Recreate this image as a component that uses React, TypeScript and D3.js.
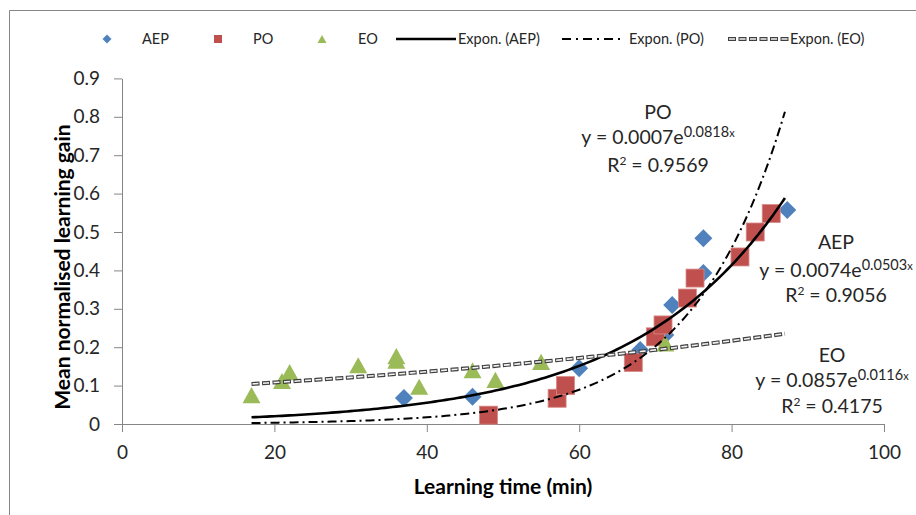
import React from 'react';
import { scaleLinear, select, axisBottom, axisLeft, line, range } from 'd3';

// series
const aepX = [37, 46, 57.5, 60, 68, 71.3, 72.2, 76.3, 76.3, 87.3];
const aepY = [0.068, 0.071, 0.08, 0.145, 0.193, 0.232, 0.31, 0.484, 0.393, 0.557];
const poX = [48.1, 57.1, 58.2, 67.1, 70, 71, 74.2, 75.2, 81.1, 83.1, 85.2];
const poY = [0.023, 0.067, 0.1, 0.16, 0.227, 0.258, 0.328, 0.38, 0.435, 0.5, 0.548];
const eoX = [17, 21, 22, 31, 36, 36, 39, 46, 49, 55, 71.3];
const eoY = [0.075, 0.112, 0.135, 0.153, 0.177, 0.165, 0.097, 0.14, 0.115, 0.162, 0.21];

// exponential fits y = a * e^(b x)
const seriesNames = ['AEP', 'PO', 'EO'];
const fitA = [0.0074, 0.00066, 0.0857];
const fitB = [0.0503, 0.0818, 0.0116];
const fitLabelA = ['0.0074', '0.0007', '0.0857'];
const fitLabelB = ['0.0503', '0.0818', '0.0116'];
const fitR2 = ['0.9056', '0.9569', '0.4175'];
const fitRange = [17, 87];

const xTicks = [0, 20, 40, 60, 80, 100];
const yTicks = [0, 0.1, 0.2, 0.3, 0.4, 0.5, 0.6, 0.7, 0.8, 0.9];
const legendLabels = ['AEP', 'PO', 'EO', 'Expon. (AEP)', 'Expon. (PO)', 'Expon. (EO)'];

const FONT = 'Lato, "Open Sans", sans-serif';
const BLUE = '#4f81bd';
const RED = '#c0504d';
const GREEN = '#9bbb59';
const AXIS = '#868686';

class App extends React.Component {
  render() {
    const width = 916
    const height = 515
    const x = scaleLinear().domain([0, 100]).range([122, 884])
    const y = scaleLinear().domain([0, 0.9]).range([424, 78.4])

    const zip = (xs, ys) => xs.map((v, i) => [v, ys[i]])

    return (
      <svg width={width} height={height} style={{ position: 'absolute', left: 0, top: 0, background: '#fff' }}>
        <rect x={0} y={0} width={width} height={height} fill="#fff" />
        <path d={`M9.5,${height} V10.5 H${width}`} fill="none" stroke={AXIS} strokeWidth={1} />

        <Axis axis="y" transform="translate(122,0)" scale={axisLeft(y).tickValues(yTicks).tickSize(8).tickSizeOuter(0).tickPadding(14).tickFormat(d => (d === 0 ? '0' : d.toFixed(1)))} />
        <Axis axis="x" transform="translate(0,424)" scale={axisBottom(x).tickValues(xTicks).tickSize(8).tickSizeOuter(0).tickPadding(14).tickFormat(d => String(d))} />

        <Markers data={zip(aepX, aepY)} scale={{ x, y }} kind="diamond" fill={BLUE} />
        <Markers data={zip(poX, poY)} scale={{ x, y }} kind="square" fill={RED} />
        <Markers data={zip(eoX, eoY)} scale={{ x, y }} kind="triangle" fill={GREEN} />

        {seriesNames.map((s, i) => (
          <TrendLine key={s} a={fitA[i]} b={fitB[i]} scale={{ x, y }} kind={i} />
        ))}

        <Equation name="PO" idx={1} cx={658} base={[119, 144, 172]} />
        <Equation name="AEP" idx={0} cx={836} base={[249, 277, 302]} />
        <Equation name="EO" idx={2} cx={832} base={[362, 387, 413]} />

        <text x={503} y={494} textAnchor="middle" fontFamily={FONT} fontWeight="bold" fontSize={21}>Learning time (min)</text>
        <text transform="translate(70,267) rotate(-90)" textAnchor="middle" fontFamily={FONT} fontWeight="bold" fontSize={21}>Mean normalised learning gain</text>

        <Legend />
      </svg>
    );
  }
}

class Markers extends React.Component {
  render() {
    const { data, scale, kind, fill } = this.props
    return (
      <g>
        {data.map((d, i) => {
          const cx = scale.x(d[0])
          const cy = scale.y(d[1])
          return <Marker key={i} cx={cx} cy={cy} kind={kind} fill={fill} size={9} />
        })}
      </g>
    )
  }
}

function Marker({ cx, cy, kind, fill, size }) {
  if (kind === 'diamond') {
    return <path d={`M${cx},${cy - size} L${cx + size},${cy} L${cx},${cy + size} L${cx - size},${cy} Z`} fill={fill} />
  }
  if (kind === 'square') {
    return <rect x={cx - size} y={cy - size} width={size * 2} height={size * 2} fill={fill} stroke="#d88a88" strokeWidth={0.8} />
  }
  const h = size * 0.9
  return <path d={`M${cx},${cy - h} L${cx + size},${cy + h} L${cx - size},${cy + h} Z`} fill={fill} />
}

class TrendLine extends React.Component {
  render() {
    const { a, b, scale, kind } = this.props
    const pts = range(fitRange[0], fitRange[1] + 0.001, 0.5).map(v => [v, a * Math.exp(b * v)])
    const path = line().x(d => scale.x(d[0])).y(d => scale.y(d[1]))(pts)
    if (kind === 0) {
      return <path d={path} fill="none" stroke="#000" strokeWidth={2.6} />
    }
    if (kind === 1) {
      return <path d={path} fill="none" stroke="#000" strokeWidth={2} strokeDasharray="9 4 2 4" />
    }
    return (
      <g>
        <path d={path} fill="none" stroke="#404040" strokeWidth={4} strokeDasharray="8 2.5" />
        <path d={path} fill="none" stroke="#f2f2f2" strokeWidth={1.6} strokeDasharray="6 4.5" strokeDashoffset={-1} />
      </g>
    )
  }
}

function Equation({ name, idx, cx, base }) {
  const st = { fontFamily: FONT, fontSize: 19.5, fill: '#262626' }
  return (
    <g>
      <text x={cx} y={base[0]} textAnchor="middle" {...st}>{name}</text>
      <text x={cx} y={base[1]} textAnchor="middle" {...st}>
        {'y = ' + fitLabelA[idx] + 'e'}
        <tspan fontSize={14.5} dy={-7}>{fitLabelB[idx]}</tspan>
        <tspan fontSize={11}>x</tspan>
      </text>
      <text x={cx} y={base[2]} textAnchor="middle" {...st}>
        R
        <tspan fontSize={12} dy={-7}>2</tspan>
        <tspan dy={7}>{' = ' + fitR2[idx]}</tspan>
      </text>
    </g>
  )
}

function Legend() {
  const ly = 39
  const symX = [107, 218, 322]
  const textX = [142, 253, 358, 458, 629, 790]
  const lineX = [[396, 456], [562, 621], [728, 789]]
  return (
    <g>
      <Marker cx={symX[0]} cy={ly} kind="diamond" fill={BLUE} size={4.5} />
      <rect x={symX[1] - 4} y={ly - 4} width={8} height={8} fill={RED} />
      <Marker cx={symX[2]} cy={ly} kind="triangle" fill={GREEN} size={4.5} />
      <line x1={lineX[0][0]} x2={lineX[0][1]} y1={ly} y2={ly} stroke="#000" strokeWidth={2.6} />
      <line x1={lineX[1][0]} x2={lineX[1][1]} y1={ly} y2={ly} stroke="#000" strokeWidth={2} strokeDasharray="9 5 2 5" />
      <line x1={lineX[2][0]} x2={lineX[2][1]} y1={ly} y2={ly} stroke="#404040" strokeWidth={4} strokeDasharray="8 2.5" />
      <line x1={lineX[2][0]} x2={lineX[2][1]} y1={ly} y2={ly} stroke="#f2f2f2" strokeWidth={1.6} strokeDasharray="6 4.5" strokeDashoffset={-1} />
      {legendLabels.map((l, i) => (
        <text key={l} x={textX[i]} y={ly + 5} fontFamily={FONT} fontSize={14.5} fill="#262626">{l}</text>
      ))}
    </g>
  )
}

class Axis extends React.Component {
  node = React.createRef()

  componentDidMount() {
    const g = select(this.node.current)
    g.call(this.props.scale)
    g.select('.domain').attr('stroke', AXIS)
    g.selectAll('.tick line').attr('stroke', AXIS)
    g.selectAll('.tick text').attr('fill', '#262626').style('font-family', FONT).style('font-size', '19px')
  }

  render() {
    return <g transform={this.props.transform} ref={this.node} />
  }
}

export default App;
